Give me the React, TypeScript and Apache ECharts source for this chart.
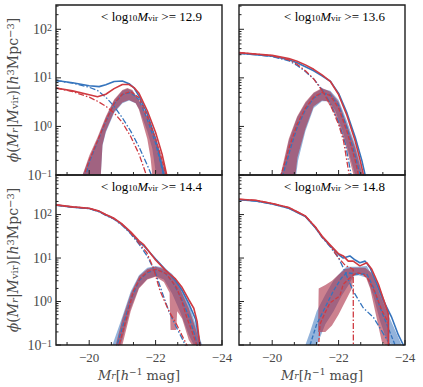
import React, { useEffect, useRef } from 'react';
import * as echarts from 'echarts';

type P = [number, number][];

// ---------- axis / tick data ----------
const X_MIN = -24;
const X_MAX = -19;
const Y_MIN = 0.1;
const Y_MAX_TOP = 316.2;
const Y_MAX_BOTTOM = 813;
const xMajorTicks = [-20, -22, -24];
const xMinorTicks = [-19.333, -20.667, -21.333, -22.667, -23.333];
const yMajorTicks = [0.1, 1, 10, 100];
const massLabels = ['12.9', '13.6', '14.4', '14.8'];

// ---------- panel 1: <log M> = 12.9 ----------
const tlBlueTotal: P = [[-19, 8.8], [-19.5, 7.9], [-20, 6.9], [-20.3, 6.6], [-20.5, 7.2], [-20.75, 8.4], [-21, 8.6], [-21.2, 7.6], [-21.35, 6.2], [-21.5, 4.2], [-21.75, 1.8], [-22, 0.55], [-22.12, 0.25], [-22.25, 0.1], [-22.35, 0.05]];
const tlRedTotal: P = [[-19, 6.2], [-19.5, 5.4], [-20, 4.5], [-20.25, 4.1], [-20.5, 4.6], [-20.75, 6.0], [-21, 7.3], [-21.2, 7.3], [-21.35, 6.3], [-21.5, 4.8], [-21.75, 2.1], [-22, 0.75], [-22.2, 0.26], [-22.35, 0.09], [-22.45, 0.05]];
const tlBlueSat: P = [[-19, 8.8], [-19.5, 7.8], [-20, 6.4], [-20.25, 5.5], [-20.5, 4.0], [-20.75, 2.6], [-21, 1.5], [-21.25, 0.8], [-21.5, 0.38], [-21.75, 0.16], [-21.9, 0.09], [-22, 0.05]];
const tlRedSat: P = [[-19, 6.2], [-19.5, 5.2], [-20, 4.0], [-20.25, 3.3], [-20.5, 2.6], [-20.75, 1.9], [-21, 1.2], [-21.25, 0.62], [-21.5, 0.27], [-21.7, 0.11], [-21.85, 0.05]];
const tlBlueCen: P = [[-19.8, 0.05], [-19.9, 0.1], [-20, 0.18], [-20.25, 0.48], [-20.5, 1.25], [-20.75, 2.9], [-21, 4.5], [-21.25, 5.0], [-21.5, 3.6], [-21.75, 1.4], [-22, 0.45], [-22.2, 0.13], [-22.3, 0.06]];
const tlBlueHi: P = [[-19.75, 0.05], [-19.8, 0.07], [-20, 0.22], [-20.25, 0.55], [-20.5, 1.5], [-20.75, 3.4], [-21, 5.4], [-21.15, 6.0], [-21.3, 5.4], [-21.5, 3.4], [-21.75, 1.5], [-22, 0.5], [-22.2, 0.17], [-22.35, 0.06]];
const tlBlueLo: P = [[-19.75, 0.001], [-20.35, 0.001], [-20.4, 0.4], [-20.5, 0.75], [-20.75, 1.9], [-21, 3.0], [-21.2, 3.4], [-21.4, 3.0], [-21.5, 2.3], [-21.75, 0.8], [-21.9, 0.35], [-22, 0.12], [-22.05, 0.05], [-22.35, 0.001]];
const tlRedCen: P = [[-19.75, 0.05], [-19.85, 0.1], [-20, 0.2], [-20.25, 0.5], [-20.5, 1.3], [-20.75, 3.0], [-21, 4.6], [-21.25, 5.2], [-21.5, 3.9], [-21.75, 1.6], [-22, 0.55], [-22.25, 0.15], [-22.35, 0.07]];
const tlRedHi: P = [[-19.75, 0.05], [-19.8, 0.07], [-20, 0.25], [-20.25, 0.6], [-20.5, 1.6], [-20.75, 3.6], [-21, 5.6], [-21.15, 6.2], [-21.3, 5.6], [-21.5, 3.5], [-21.75, 1.6], [-22, 0.6], [-22.2, 0.22], [-22.35, 0.08], [-22.42, 0.05]];
const tlRedLo: P = [[-19.75, 0.001], [-20.35, 0.001], [-20.4, 0.42], [-20.5, 0.8], [-20.75, 2.0], [-21, 3.1], [-21.2, 3.5], [-21.4, 3.0], [-21.5, 2.2], [-21.75, 0.55], [-21.85, 0.22], [-21.9, 0.05], [-22.42, 0.001]];

// ---------- panel 2: <log M> = 13.6 ----------
const trBlueTotal: P = [[-19, 32], [-19.5, 30], [-20, 28], [-20.5, 23.5], [-20.75, 20.5], [-21, 17], [-21.25, 14], [-21.5, 11], [-21.75, 8.5], [-22, 4.8], [-22.25, 1.9], [-22.5, 0.6], [-22.7, 0.2], [-22.85, 0.07]];
const trRedTotal: P = [[-19, 33], [-19.5, 31], [-20, 29], [-20.5, 25], [-20.75, 22], [-21, 18.5], [-21.25, 15], [-21.5, 11.5], [-21.75, 8.5], [-22, 4.5], [-22.25, 1.7], [-22.5, 0.5], [-22.65, 0.2], [-22.8, 0.07]];
const trBlueSat: P = [[-19, 32], [-19.5, 30], [-20, 27.5], [-20.5, 22.5], [-20.75, 18], [-21, 13.5], [-21.25, 9.5], [-21.5, 5.8], [-21.75, 3.0], [-22, 1.25], [-22.2, 0.45], [-22.35, 0.13], [-22.42, 0.06]];
const trRedSat: P = [[-19, 33], [-19.5, 31], [-20, 28.5], [-20.5, 23.5], [-20.75, 19], [-21, 14], [-21.25, 9.5], [-21.5, 5.5], [-21.75, 2.8], [-22, 1.1], [-22.15, 0.5], [-22.3, 0.12], [-22.38, 0.06]];
const trBlueCen: P = [[-20.25, 0.07], [-20.45, 0.2], [-20.55, 0.35], [-20.75, 0.95], [-21, 2.2], [-21.25, 3.8], [-21.5, 4.9], [-21.75, 4.5], [-22, 2.7], [-22.25, 0.95], [-22.5, 0.25], [-22.7, 0.07]];
const trBlueHi: P = [[-20.22, 0.08], [-20.3, 0.12], [-20.5, 0.5], [-20.75, 1.5], [-21, 3.0], [-21.25, 4.8], [-21.5, 6.0], [-21.75, 5.4], [-22, 3.5], [-22.25, 1.3], [-22.5, 0.42], [-22.75, 0.08]];
const trBlueLo: P = [[-20.22, 0.001], [-20.72, 0.001], [-20.78, 0.2], [-21, 0.8], [-21.25, 2.4], [-21.5, 3.3], [-21.7, 3.3], [-21.9, 2.1], [-22.1, 0.9], [-22.3, 0.3], [-22.5, 0.08], [-22.55, 0.001], [-22.75, 0.001]];
const trRedCen: P = [[-20.2, 0.07], [-20.4, 0.2], [-20.5, 0.35], [-20.75, 1.1], [-21, 2.4], [-21.25, 4.0], [-21.5, 5.0], [-21.75, 4.3], [-22, 2.4], [-22.25, 0.8], [-22.5, 0.2], [-22.65, 0.07]];
const trRedHi: P = [[-20.2, 0.08], [-20.25, 0.1], [-20.5, 0.56], [-20.75, 1.6], [-21, 3.2], [-21.25, 5.0], [-21.5, 6.2], [-21.75, 5.2], [-22, 3.2], [-22.25, 1.1], [-22.5, 0.37], [-22.72, 0.08]];
const trRedLo: P = [[-20.2, 0.001], [-20.7, 0.001], [-20.76, 0.23], [-21, 0.9], [-21.25, 2.6], [-21.5, 3.4], [-21.65, 3.3], [-21.85, 2.0], [-22.05, 0.9], [-22.25, 0.33], [-22.45, 0.09], [-22.5, 0.001], [-22.72, 0.001]];

// ---------- panel 3: <log M> = 14.4 ----------
const blBlueTotal: P = [[-19, 165], [-19.5, 148], [-20, 138], [-20.3, 118], [-20.5, 98], [-20.75, 80], [-21, 58], [-21.25, 38], [-21.5, 23], [-21.65, 19], [-21.75, 15.5], [-22, 9.5], [-22.3, 5.4], [-22.6, 3.0], [-22.8, 1.8], [-23, 0.9], [-23.2, 0.4], [-23.3, 0.15], [-23.38, 0.06]];
const blRedTotal: P = [[-19, 167], [-19.5, 150], [-20, 140], [-20.3, 120], [-20.5, 100], [-20.75, 82], [-21, 60], [-21.25, 40], [-21.5, 25], [-21.65, 20], [-21.75, 16], [-22, 9], [-22.3, 5.2], [-22.6, 3.3], [-22.8, 2.1], [-23, 1.1], [-23.15, 0.7], [-23.25, 0.35], [-23.33, 0.1], [-23.4, 0.05]];
const blBlueSat: P = [[-19, 165], [-19.5, 148], [-20, 137], [-20.3, 116], [-20.5, 96], [-20.75, 78], [-21, 56], [-21.25, 36], [-21.5, 21], [-21.75, 11], [-22, 4.5], [-22.2, 1.6], [-22.4, 0.6], [-22.6, 0.28], [-22.8, 0.14], [-22.95, 0.08], [-23.05, 0.05]];
const blRedSat: P = [[-19, 167], [-19.5, 150], [-20, 139], [-20.3, 118], [-20.5, 98], [-20.75, 80], [-21, 58], [-21.25, 38], [-21.5, 22], [-21.73, 13.5], [-21.93, 6.0], [-22.13, 1.8], [-22.33, 0.8], [-22.43, 0.55], [-22.63, 0.3], [-22.79, 0.17], [-22.94, 0.1], [-23.05, 0.05]];
const blBlueCen: P = [[-20.8, 0.08], [-21, 0.25], [-21.25, 1.1], [-21.5, 3.0], [-21.75, 4.6], [-22, 5.4], [-22.25, 4.8], [-22.5, 2.9], [-22.75, 1.3], [-23, 0.45], [-23.2, 0.15], [-23.3, 0.07]];
const blBlueHi: P = [[-20.7, 0.08], [-21, 0.45], [-21.25, 1.7], [-21.5, 4.0], [-21.75, 6.0], [-22, 6.6], [-22.25, 6.0], [-22.5, 4.3], [-22.75, 2.3], [-23, 0.9], [-23.2, 0.3], [-23.4, 0.08]];
const blBlueLo: P = [[-20.7, 0.001], [-20.9, 0.001], [-20.95, 0.1], [-21.25, 0.7], [-21.5, 2.1], [-21.75, 3.3], [-22, 3.8], [-22.25, 3.2], [-22.5, 1.5], [-22.75, 0.55], [-23, 0.17], [-23.15, 0.05], [-23.4, 0.001]];
const blRedCen: P = [[-20.85, 0.08], [-20.9, 0.1], [-21.13, 0.43], [-21.33, 1.74], [-21.53, 3.4], [-21.78, 5.0], [-22.03, 5.5], [-22.33, 4.3], [-22.63, 2.1], [-22.79, 1.02], [-22.94, 0.43], [-23.09, 0.21], [-23.24, 0.1], [-23.3, 0.06]];
const blRedHi: P = [[-20.75, 0.08], [-20.8, 0.1], [-21, 0.4], [-21.25, 1.5], [-21.5, 3.8], [-21.75, 5.6], [-22, 6.3], [-22.25, 5.6], [-22.5, 3.9], [-22.75, 1.9], [-23, 0.7], [-23.2, 0.25], [-23.35, 0.08]];
const blRedLo: P = [[-20.75, 0.001], [-20.95, 0.001], [-21, 0.1], [-21.25, 0.6], [-21.5, 2.0], [-21.75, 3.2], [-22, 3.7], [-22.25, 2.8], [-22.42, 1.6], [-22.45, 0.22], [-22.62, 0.22], [-22.65, 0.6], [-22.8, 0.4], [-23, 0.13], [-23.1, 0.05], [-23.35, 0.001]];

// ---------- panel 4: <log M> = 14.8 ----------
const brBlueTotal: P = [[-19, 220], [-19.5, 205], [-20, 175], [-20.5, 140], [-21, 90], [-21.3, 50], [-21.5, 31], [-21.75, 19], [-22, 12], [-22.14, 10], [-22.34, 11.2], [-22.5, 9], [-22.64, 7.8], [-22.8, 8.5], [-22.95, 5.9], [-23.15, 2.5], [-23.35, 1.05], [-23.6, 0.43], [-23.8, 0.17], [-23.95, 0.1], [-24, 0.08]];
const brRedTotal: P = [[-19, 225], [-19.5, 213], [-20, 180], [-20.5, 145], [-21, 93], [-21.3, 52], [-21.5, 32], [-21.75, 20], [-22, 12.5], [-22.14, 11.2], [-22.29, 8.5], [-22.44, 8.5], [-22.64, 6.6], [-22.85, 7.8], [-23, 5.5], [-23.2, 2.5], [-23.4, 0.87], [-23.5, 0.51], [-23.51, 0.001]];
const brBlueSat: P = [[-19, 220], [-19.5, 205], [-20, 175], [-20.5, 140], [-21, 90], [-21.3, 50], [-21.5, 30], [-21.75, 18], [-22, 10], [-22.14, 6.0], [-22.44, 1.74], [-22.74, 0.72], [-23.05, 0.43], [-23.3, 0.21], [-23.55, 0.1], [-23.65, 0.07]];
const brRedSat: P = [[-19, 225], [-19.5, 213], [-20, 180], [-20.5, 145], [-21, 93], [-21.3, 52], [-21.5, 31], [-21.75, 19], [-22, 10], [-22.2, 6.8], [-22.44, 5.5], [-22.45, 0.001]];
const brBlueCen: P = [[-21.14, 0.1], [-21.34, 0.3], [-21.59, 0.72], [-21.84, 1.74], [-22.09, 3.5], [-22.24, 4.6], [-22.55, 4.3], [-22.85, 4.3], [-23.05, 2.1], [-23.25, 0.72], [-23.45, 0.3], [-23.7, 0.1], [-23.8, 0.06]];
const brBlueHi: P = [[-21.0, 0.08], [-21.14, 0.2], [-21.34, 0.6], [-21.59, 1.4], [-21.84, 3.0], [-22.09, 5.0], [-22.24, 6.3], [-22.55, 6.3], [-22.85, 6.6], [-23.05, 3.5], [-23.25, 1.4], [-23.45, 0.6], [-23.7, 0.22], [-23.9, 0.08]];
const brBlueLo: P = [[-21.0, 0.001], [-21.3, 0.001], [-21.35, 0.1], [-21.6, 0.3], [-21.85, 0.6], [-22.1, 1.4], [-22.3, 2.4], [-22.45, 3.8], [-22.6, 4.0], [-22.85, 3.5], [-23.05, 1.3], [-23.25, 0.35], [-23.45, 0.13], [-23.6, 0.06], [-23.9, 0.001]];
const brRedCen: P = [[-21.39, 0.001], [-21.4, 0.1], [-21.44, 0.3], [-21.59, 0.55], [-21.74, 0.93], [-21.89, 1.12], [-22.04, 1.35], [-22.14, 2.5], [-22.34, 3.5], [-22.55, 4.6], [-22.74, 4.3], [-22.9, 3.2], [-23.1, 1.6], [-23.3, 0.63], [-23.5, 0.32], [-23.51, 0.001]];
const brRedHi: P = [[-21.38, 0.2], [-21.4, 2.0], [-21.6, 2.4], [-21.8, 3.0], [-22, 4.2], [-22.2, 5.6], [-22.4, 6.0], [-22.6, 6.0], [-22.8, 6.0], [-23, 4.5], [-23.2, 2.5], [-23.4, 1.0], [-23.5, 0.6], [-23.51, 0.001]];
const brRedLo: P = [[-21.38, 0.2], [-21.6, 0.2], [-21.8, 0.28], [-22, 0.5], [-22.2, 1.0], [-22.4, 2.0], [-22.45, 4.0], [-22.6, 4.3], [-22.8, 4.0], [-22.95, 2.0], [-23.1, 0.6], [-23.3, 0.12], [-23.4, 0.001], [-23.51, 0.001]];

// ---------- styling ----------
const BLUE = '#3574bd';
const RED = '#cf3a41';
const BLUE_BAND = 'rgba(58,117,189,0.55)';
const RED_BAND = 'rgba(170,45,68,0.6)';
const TXT = '#4a4a4a';
const SERIF = 'Liberation Serif';
const MATH = 'DejaVu Serif';

const GRIDS = [
  { left: 56, top: 5, width: 166, height: 170 },
  { left: 239, top: 5, width: 166, height: 170 },
  { left: 56, top: 175, width: 166, height: 170 },
  { left: 239, top: 175, width: 166, height: 170 },
];

function rich(font: string, size: number) {
  const s = Math.round(size * 0.7);
  return {
    n: { fontFamily: font, fontSize: size, lineHeight: size + 1, padding: [4, 0, 3, 0], color: TXT },
    i: { fontFamily: font, fontSize: size, fontStyle: 'italic', lineHeight: size + 1, padding: [4, 0, 3, 0], color: TXT },
    sup: { fontFamily: font, fontSize: s, lineHeight: s + 1, verticalAlign: 'top', color: TXT },
    sub: { fontFamily: font, fontSize: s, lineHeight: s + 1, verticalAlign: 'bottom', padding: [0, 0, 1, 0], color: TXT },
    isub: { fontFamily: font, fontSize: s, fontStyle: 'italic', lineHeight: s + 1, verticalAlign: 'bottom', padding: [0, 0, 1, 0], color: TXT },
  };
}

const X_NAME = '{i|M}{isub|r}{n|[}{i|h}{sup|−1}{n| mag]}';
const Y_NAME = '{i|ϕ}{n|(}{i|M}{isub|r}{n||}{i|M}{sub|vir}{n|)[}{i|h}{sup|3}{n|Mpc}{sup|−3}{n|]}';

function buildOption() {
  const panels = [
    { blue: [tlBlueTotal, tlBlueSat, tlBlueCen, tlBlueHi, tlBlueLo], red: [tlRedTotal, tlRedSat, tlRedCen, tlRedHi, tlRedLo], yMax: Y_MAX_TOP, xLab: false, yLab: true },
    { blue: [trBlueTotal, trBlueSat, trBlueCen, trBlueHi, trBlueLo], red: [trRedTotal, trRedSat, trRedCen, trRedHi, trRedLo], yMax: Y_MAX_TOP, xLab: false, yLab: false },
    { blue: [blBlueTotal, blBlueSat, blBlueCen, blBlueHi, blBlueLo], red: [blRedTotal, blRedSat, blRedCen, blRedHi, blRedLo], yMax: Y_MAX_BOTTOM, xLab: true, yLab: true },
    { blue: [brBlueTotal, brBlueSat, brBlueCen, brBlueHi, brBlueLo], red: [brRedTotal, brRedSat, brRedCen, brRedHi, brRedLo], yMax: Y_MAX_BOTTOM, xLab: true, yLab: false },
  ];

  const yMinor = (yMax: number) => {
    const out: number[] = [];
    for (let d = 0.1; d < yMax; d *= 10) {
      for (let k = 2; k <= 9; k++) {
        const v = k * d;
        if (v < yMax) out.push(v);
      }
    }
    return out;
  };

  const series: any[] = [];
  panels.forEach((p, i) => {
    const clampPt = (pt: [number, number]): [number, number] => [pt[0], Math.min(Math.max(pt[1], Y_MIN), p.yMax)];
    const band = (hi: P, lo: P, fill: string) => ({
      type: 'custom', xAxisIndex: i, yAxisIndex: i, clip: true, silent: true, z: 1,
      data: [[-21, 1]],
      renderItem: (_params: any, api: any) => {
        const pts = hi.map((pt) => api.coord(clampPt(pt))).concat(lo.slice().reverse().map((pt) => api.coord(clampPt(pt))));
        return { type: 'polygon', shape: { points: pts }, style: { fill, stroke: null } };
      },
    });
    series.push(band(p.blue[3], p.blue[4], BLUE_BAND));
    series.push(band(p.red[3], p.red[4], RED_BAND));
    const line = (data: P, color: string, type: any, width: number, z: number) => ({
      type: 'line', xAxisIndex: i, yAxisIndex: i, data, showSymbol: false, symbol: 'none', silent: true, z,
      lineStyle: { color, width, type }, clip: true,
    });
    const dash = [4, 2];
    const dashDot = [6, 2, 1.5, 2];
    series.push(line(p.blue[2], BLUE, dash, 1.3, 3));
    series.push(line(p.blue[1], BLUE, dashDot, 1.3, 3));
    series.push(line(p.blue[0], BLUE, 'solid', 1.6, 3));
    series.push(line(p.red[2], RED, dash, 1.3, 4));
    series.push(line(p.red[1], RED, dashDot, 1.3, 4));
    series.push(line(p.red[0], RED, 'solid', 1.6, 4));

    const xTick = (vals: number[], len: number) => ({
      type: 'custom', xAxisIndex: i, yAxisIndex: i, silent: true, z: 20, clip: false,
      data: vals.map((v) => [v, Y_MIN]),
      renderItem: (_params: any, api: any) => {
        const c = api.coord([api.value(0), Y_MIN]);
        return { type: 'line', shape: { x1: c[0], y1: c[1], x2: c[0], y2: c[1] - len }, style: { stroke: '#222', lineWidth: 1 } };
      },
    });
    const yTick = (vals: number[], len: number) => ({
      type: 'custom', xAxisIndex: i, yAxisIndex: i, silent: true, z: 20, clip: false,
      data: vals.map((v) => [X_MAX, v]),
      renderItem: (_params: any, api: any) => {
        const c = api.coord([X_MAX, api.value(1)]);
        return { type: 'line', shape: { x1: c[0], y1: c[1], x2: c[0] + len, y2: c[1] }, style: { stroke: '#222', lineWidth: 1 } };
      },
    });
    series.push(xTick(xMajorTicks, 5));
    series.push(xTick(xMinorTicks, 3));
    series.push(yTick(yMajorTicks, 5));
    series.push(yTick(yMinor(p.yMax), 2.5));
  });

  const graphic: any[] = [];
  GRIDS.forEach((g, i) => {
    graphic.push({
      type: 'rect', z: 100, silent: true,
      shape: { x: g.left, y: g.top, width: g.width, height: g.height },
      style: { fill: 'none', stroke: '#1e1e1e', lineWidth: 1.4 },
    });
    graphic.push({
      type: 'text', z: 100, silent: true,
      x: g.left + g.width - 20, y: g.top + 11,
      style: {
        text: `{n|< log}{sub|10}{i|M}{sub|vir}{n| >= ${massLabels[i]}}`,
        rich: rich(SERIF, 13),
        align: 'right', verticalAlign: 'middle',
      },
    });
  });

  return {
    animation: false,
    grid: GRIDS.map((g) => ({ ...g, show: false, containLabel: false, outerBoundsMode: 'none' })),
    xAxis: panels.map((p, i) => ({
      type: 'value', gridIndex: i, min: X_MIN, max: X_MAX, inverse: true, interval: 2,
      axisLine: { show: false }, axisTick: { show: false }, splitLine: { show: false },
      axisLabel: {
        show: p.xLab, margin: 6, color: TXT, fontFamily: SERIF, fontSize: 13,
        showMinLabel: true, showMaxLabel: true,
        formatter: (v: number) => (xMajorTicks.some((t) => Math.abs(t - v) < 1e-6) ? '−' + Math.abs(v) : ''),
      },
      name: p.xLab ? X_NAME : '', nameLocation: 'middle', nameGap: 19,
      nameTextStyle: { rich: rich(MATH, 13) },
    })),
    yAxis: panels.map((p, i) => ({
      type: 'log', logBase: 10, gridIndex: i, min: Y_MIN, max: p.yMax,
      axisLine: { show: false }, axisTick: { show: false }, splitLine: { show: false }, minorTick: { show: false },
      axisLabel: {
        show: p.yLab, margin: 4,
        formatter: (v: number) => {
          const l = Math.log10(v);
          const e = Math.round(l);
          if (Math.abs(l - e) > 0.01) return '';
          return `{b|10}{s|${e < 0 ? '−' + -e : e}}`;
        },
        rich: {
          b: { fontFamily: SERIF, fontSize: 14, lineHeight: 14, padding: [4, 0, 0, 0], verticalAlign: 'bottom', color: TXT },
          s: { fontFamily: SERIF, fontSize: 10, lineHeight: 10, verticalAlign: 'top', color: TXT },
        },
      },
      name: p.yLab ? Y_NAME : '', nameLocation: 'middle', nameGap: 35, nameRotate: 90,
      nameTextStyle: { rich: rich(MATH, 14) },
    })),
    series,
    graphic,
  };
}

export default function App() {
  const ref = useRef<HTMLDivElement>(null);
  useEffect(() => {
    if (!ref.current) return;
    const chart = echarts.init(ref.current, null, { renderer: 'svg' });
    chart.setOption(buildOption() as any);
    return () => chart.dispose();
  }, []);
  return <div ref={ref} style={{ position: 'absolute', left: 0, top: 0, width: 423, height: 387, background: '#fff' }} />;
}
